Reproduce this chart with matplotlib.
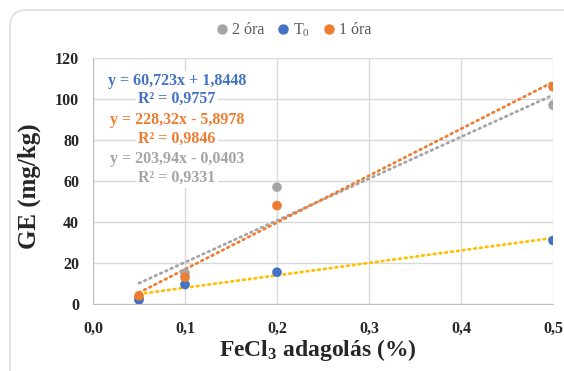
import matplotlib
matplotlib.use("Agg")
import matplotlib.pyplot as plt
import numpy as np
from matplotlib.lines import Line2D
from matplotlib.patches import FancyBboxPatch

plt.rcParams['font.family'] = ['Liberation Serif', 'DejaVu Serif']
plt.rcParams['mathtext.fontset'] = 'custom'
plt.rcParams['mathtext.rm'] = 'Liberation Serif'
plt.rcParams['mathtext.bf'] = 'Liberation Serif:bold'
plt.rcParams['mathtext.it'] = 'Liberation Serif:italic'

# Data
x_vals = [0.05, 0.1, 0.2, 0.5]
series_names = ['2 óra', 'T$_0$', '1 óra']
ora2 = [3.0, 15.0, 57.0, 97.0]
t0 = [2.0, 9.5, 15.5, 31.0]
ora1 = [4.0, 13.0, 48.0, 106.0]
# trendline coefficients (from chart equations)
slopes = [203.94, 60.723, 228.32]
intercepts = [-0.0403, 1.8448, -5.8978]
eq_texts = [
    ('y = 60,723x + 1,8448', 'R² = 0,9757'),
    ('y = 228,32x - 5,8978', 'R² = 0,9846'),
    ('y = 203,94x - 0,0403', 'R² = 0,9331'),
]
x_ticks = [0.0, 0.1, 0.2, 0.3, 0.4, 0.5]
x_ticklabels = ['0,0', '0,1', '0,2', '0,3', '0,4', '0,5']
y_ticks = [0, 20, 40, 60, 80, 100, 120]

marker_colors = ['#A5A5A5', '#4472C4', '#ED7D31']
trend_colors = ['#A5A5A5', '#FFC000', '#ED7D31']
eq_colors = ['#4472C4', '#ED7D31', '#A5A5A5']

W, H = 564, 371
fig = plt.figure(figsize=(W / 100, H / 100), dpi=100)
ax = fig.add_axes([93 / W, 1 - 304 / H, (553 - 93) / W, (304 - 58) / H])

series = [ora2, t0, ora1]
xt = np.array([min(x_vals), max(x_vals)])
for s, b, c in zip(slopes, intercepts, trend_colors):
    ax.plot(xt, s * xt + b, color=c, lw=2.0, linestyle=(0, (0.6, 1.5)),
            dash_capstyle='round', zorder=2)
for vals, c in zip(series, marker_colors):
    ax.scatter(x_vals, vals, s=48, color=c, zorder=3, edgecolors='none')

ax.set_xlim(0, 0.5)
ax.set_ylim(0, 120)
ax.set_xticks(x_ticks)
ax.set_xticklabels(x_ticklabels)
ax.set_yticks(y_ticks)
ax.grid(True, color='#D9D9D9', lw=1)
ax.set_axisbelow(True)
for sp in ['top', 'right']:
    ax.spines[sp].set_visible(False)
for sp in ['left', 'bottom']:
    ax.spines[sp].set_color('#BFBFBF')
ax.tick_params(length=0, labelsize=11.5)
ax.tick_params(axis='y', pad=10)
ax.tick_params(axis='x', pad=12)
for lab in ax.get_xticklabels() + ax.get_yticklabels():
    lab.set_fontweight('bold')
    lab.set_color('#262626')

ax.set_ylabel('GE (mg/kg)', fontsize=18, fontweight='bold', color='#262626')
ax.yaxis.set_label_coords((41 - 93) / 460, (304 - 186) / 246)
ax.set_xlabel(r'FeCl$_\mathbf{3}$ adagolás (%)', fontsize=17, fontweight='bold', color='#262626')
ax.xaxis.set_label_coords((318 - 93) / 460, (304 - 337) / 246)

ys = [(81, 99), (120, 139), (159, 178)]
for (l1, l2), (y1, y2), c in zip(eq_texts, ys, eq_colors):
    for t, yy in ((l1, y1), (l2, y2)):
        fig.text(177 / W, 1 - yy / H, t, ha='center', va='center', fontsize=11.5,
                 fontweight='bold', color=c,
                 bbox=dict(facecolor='white', edgecolor='none', pad=1.5))

handles = [Line2D([], [], marker='o', ls='none', color=c, markersize=6.5) for c in marker_colors]
fig.legend(handles, series_names, loc='center', bbox_to_anchor=(292 / W, 1 - 30 / H),
           ncol=3, frameon=False, fontsize=11.5, handletextpad=0.0, columnspacing=0.6,
           labelcolor='#595959', handlelength=1.2)

fig.patches.append(FancyBboxPatch((10 / W, -20 / H), 1 + 20 / W, 1 + 10 / H,
                                  boxstyle='round,pad=0,rounding_size=0.03',
                                  transform=fig.transFigure, fill=False,
                                  edgecolor='#D9D9D9', lw=1, mutation_aspect=W / H))

fig.savefig('out.png', dpi=100)
